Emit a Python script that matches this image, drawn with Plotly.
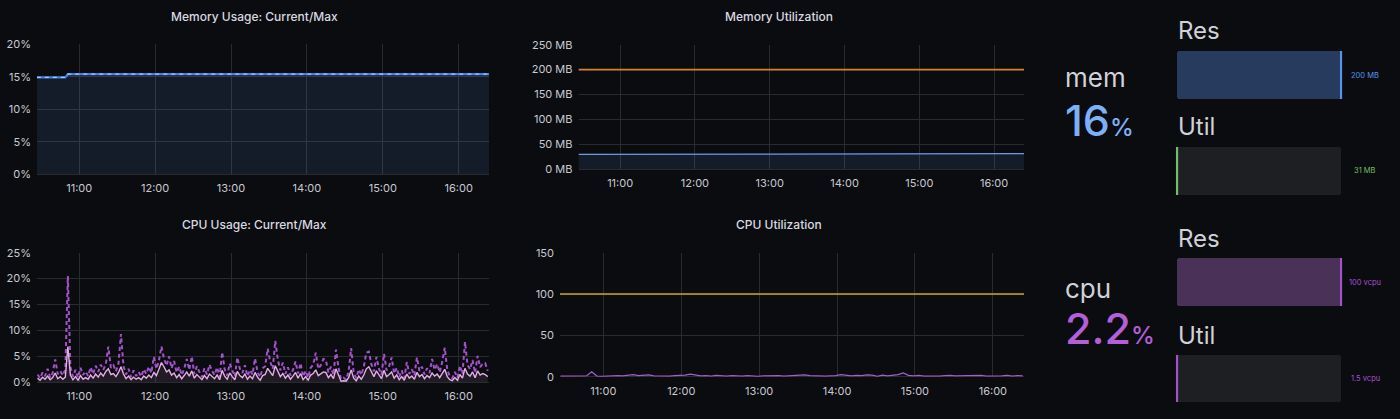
import pandas as pd
import plotly.graph_objects as go

DAY = "2023-05-10 "
BG = "#0b0c0f"
GRID = "#2a2b30"
TXT = "#c8c9d3"
FONT = "Inter"

# ---------------- data ----------------
mem_times = ["10:26:30", "10:49", "10:51", "16:24"]
mem_pct_current = [14.9, 14.9, 15.4, 15.4]
mem_pct_max = [14.9, 14.9, 15.4, 15.4]
mem_used_mb = [30.0, 30.0, 31.5, 31.5]
mem_limit_mb = [200, 200]

cpu_start, cpu_step_min = "10:27", 2
cpu_pct_max = [
    1.5, 0.8, 1.9, 1.2, 2.6, 0.9, 1.8, 4.4, 1.6, 2.2,
    1.3, 2.5, 20.5, 3.0, 1.1, 2.4, 0.9, 2.8, 1.4, 2.1,
    1.2, 2.9, 1.6, 3.2, 2.0, 3.4, 2.4, 3.5, 6.9, 2.8,
    3.3, 2.1, 3.6, 9.3, 3.1, 1.5, 2.6, 1.0, 2.3, 1.2,
    2.0, 1.1, 2.5, 1.6, 3.0, 1.8, 4.9, 2.6, 4.2, 6.9,
    4.6, 3.2, 5.0, 2.7, 4.1, 1.9, 3.0, 1.4, 2.6, 4.5,
    2.4, 5.0, 1.6, 3.1, 2.0, 1.0, 2.7, 1.5, 3.4, 2.2,
    1.4, 2.9, 1.0, 5.8, 2.5, 1.3, 3.6, 2.2, 1.1, 4.8,
    2.6, 1.8, 3.3, 1.2, 2.4, 1.5, 4.6, 2.0, 1.0, 2.7,
    3.1, 6.5, 4.0, 2.6, 8.0, 4.4, 2.3, 3.8, 1.6, 2.9,
    1.3, 2.4, 4.0, 1.7, 3.7, 1.1, 2.2, 0.9, 2.8, 3.4,
    5.7, 2.6, 3.3, 4.5, 4.3, 1.9, 3.0, 1.4, 6.3, 2.8,
    0.6, 0.9, 0.5, 2.1, 6.6, 1.8, 0.8, 2.5, 1.4, 3.0,
    5.7, 5.9, 3.5, 2.1, 4.9, 2.6, 1.5, 5.5, 2.3, 3.1,
    4.8, 1.7, 2.8, 1.0, 2.3, 0.8, 3.9, 1.6, 2.5, 1.3,
    4.8, 2.2, 3.0, 1.5, 2.7, 1.8, 4.5, 2.4, 3.5, 1.9,
    3.9, 6.7, 2.4, 1.2, 0.8, 2.0, 0.9, 3.2, 1.6, 7.8,
    3.4, 2.5, 4.3, 1.8, 5.1, 2.9, 3.6, 3.7, 2.2,
]
cpu_pct_current = [
    0.8, 0.4, 1.0, 0.6, 1.2, 0.5, 0.9, 1.8, 0.7, 1.1,
    0.6, 1.0, 6.9, 1.4, 0.5, 1.1, 0.4, 1.3, 0.6, 0.9,
    0.6, 1.4, 0.8, 1.6, 1.0, 1.8, 1.2, 2.1, 2.6, 1.5,
    1.7, 1.1, 1.9, 3.0, 1.6, 0.7, 1.2, 0.5, 1.0, 0.6,
    0.9, 0.5, 1.2, 0.8, 1.4, 0.9, 1.9, 1.3, 2.5, 3.8,
    3.0, 2.0, 2.4, 1.4, 1.8, 0.9, 1.5, 0.7, 1.3, 2.0,
    1.2, 2.2, 0.8, 1.5, 1.0, 0.5, 1.3, 0.7, 1.6, 1.1,
    0.7, 1.4, 0.5, 2.3, 1.2, 0.6, 1.8, 1.1, 0.5, 2.1,
    1.3, 0.9, 1.6, 0.6, 1.2, 0.7, 1.9, 1.0, 0.4, 1.3,
    1.5, 2.7, 2.0, 1.3, 3.2, 2.2, 1.1, 1.7, 0.8, 1.4,
    0.6, 1.2, 1.9, 0.8, 1.7, 0.5, 1.1, 0.4, 1.4, 1.7,
    2.4, 1.3, 1.6, 2.0, 1.9, 0.9, 1.5, 0.7, 2.6, 1.3,
    0.2, 0.3, 0.2, 0.9, 2.4, 0.8, 0.3, 1.2, 0.6, 1.4,
    2.6, 3.0, 2.0, 1.1, 2.2, 1.3, 0.7, 2.3, 1.1, 1.5,
    2.0, 0.8, 1.4, 0.5, 1.1, 0.4, 1.6, 0.8, 1.2, 0.6,
    1.9, 1.1, 1.5, 0.7, 1.3, 0.9, 1.8, 1.2, 1.6, 0.9,
    1.7, 2.5, 1.1, 0.5, 0.3, 0.9, 0.4, 1.5, 0.8, 2.7,
    1.6, 1.2, 2.0, 0.9, 2.2, 1.4, 1.7, 1.5, 1.1,
]

util_start, util_step_min = "10:27", 4
cpu_util = [
    0.6, 0.5, 0.8, 1.0, 0.6, 0.9, 6.0, 0.8, 0.5, 0.9,
    0.7, 1.2, 1.0, 1.4, 2.6, 1.3, 1.6, 2.2, 1.0, 0.7,
    0.9, 0.6, 1.2, 1.5, 2.0, 3.2, 1.8, 1.1, 1.4, 0.8,
    1.6, 1.2, 0.7, 1.3, 0.9, 0.6, 1.4, 0.9, 0.5, 1.1,
    1.3, 0.8, 1.2, 0.6, 1.0, 1.5, 1.9, 2.3, 1.4, 0.9,
    1.1, 0.6, 0.9, 1.2, 2.6, 1.5, 1.0, 1.7, 1.3, 2.1,
    1.9, 0.4, 2.0, 0.9, 1.4, 2.6, 4.6, 1.6, 1.1, 1.5,
    0.8, 0.6, 1.0, 0.7, 1.2, 1.6, 0.9, 1.1, 0.6, 1.3,
    1.0, 1.5, 0.7, 0.5, 1.2, 0.9, 1.6, 0.8, 1.3, 0.9,
]
limit_times = ["10:26:30", "16:24"]
cpu_limit = [100, 100]

stat_labels = ["mem", "cpu"]
stat_values = ["16", "2.2"]
stat_colors = ["#7eb0f7", "#b35fd8"]

gauge_titles = ["Res", "Util", "Res", "Util"]
gauge_fill = [1.0, 0.0, 1.0, 0.0]
gauge_texts = ["200 MB", "31 MB", "100 vcpu", "1.5 vcpu"]
gauge_edge = ["#5794f2", "#73bf69", "#a352cc", "#a352cc"]
gauge_body = ["#263b5e", "#1e1f23", "#4a3158", "#1e1f23"]

# ---------------- helpers ----------------
W, H = 1400, 419
def px(x): return x / W
def py(y): return 1 - y / H

mem_t = [DAY + t for t in mem_times]
cpu_t = pd.date_range(DAY + cpu_start, periods=len(cpu_pct_max), freq=f"{cpu_step_min}min")
util_t = pd.date_range(DAY + util_start, periods=len(cpu_util), freq=f"{util_step_min}min")
lim_t = [DAY + t for t in limit_times]

fig = go.Figure()

# Memory usage (x1,y1)
fig.add_trace(go.Scatter(x=mem_t, y=mem_pct_current, mode="lines", line=dict(color="#3d7fe6", width=2.2),
                         fill="tozeroy", fillcolor="rgba(87,148,242,0.12)", xaxis="x", yaxis="y"))
fig.add_trace(go.Scatter(x=mem_t, y=mem_pct_max, mode="lines", line=dict(color="#a9c8f5", width=1.3, dash="4px,4px"),
                         xaxis="x", yaxis="y"))

# CPU usage (x2,y2)
fig.add_trace(go.Scatter(x=cpu_t, y=cpu_pct_max, mode="lines", line=dict(color="#a352cc", width=2, dash="4px,3px"),
                         xaxis="x2", yaxis="y2"))
fig.add_trace(go.Scatter(x=cpu_t, y=cpu_pct_current, mode="lines", line=dict(color="#e6aee6", width=1.4),
                         fill="tozeroy", fillcolor="rgba(229,168,226,0.10)", xaxis="x2", yaxis="y2"))

# Memory utilization (x3,y3)
fig.add_trace(go.Scatter(x=lim_t, y=mem_limit_mb, mode="lines", line=dict(color="#d9822b", width=1.6),
                         xaxis="x3", yaxis="y3"))
fig.add_trace(go.Scatter(x=mem_t, y=mem_used_mb, mode="lines", line=dict(color="#6d9be6", width=1.3),
                         fill="tozeroy", fillcolor="rgba(87,148,242,0.12)", xaxis="x3", yaxis="y3"))

# CPU utilization (x4,y4)
fig.add_trace(go.Scatter(x=lim_t, y=cpu_limit, mode="lines", line=dict(color="#c4a81c", width=1.6),
                         xaxis="x4", yaxis="y4"))
fig.add_trace(go.Scatter(x=util_t, y=cpu_util, mode="lines", line=dict(color="#a35fcc", width=1.2),
                         xaxis="x4", yaxis="y4"))

xrange = [DAY + "10:26:36", DAY + "16:24"]
def time_axis(domain, anchor):
    return dict(domain=domain, anchor=anchor, type="date", range=xrange, tick0=DAY + "11:00",
                dtick=3600000, tickformat="%H:%M", showgrid=True, gridcolor=GRID, gridwidth=1,
                showline=False, zeroline=False, ticks="", ticklabelstandoff=6, automargin=False,
                tickfont=dict(size=11, color=TXT, family=FONT))

def val_axis(domain, anchor, rng, dtick, suffix=""):
    return dict(domain=domain, anchor=anchor, range=rng, dtick=dtick, tick0=0, ticksuffix=suffix,
                showgrid=True, gridcolor=GRID, gridwidth=1, zeroline=True, zerolinecolor=GRID,
                zerolinewidth=1, showline=False, ticks="", ticklabelstandoff=5, automargin=False,
                tickfont=dict(size=11, color=TXT, family=FONT))

layout = dict(
    template="none",
    width=W, height=H, autosize=False, paper_bgcolor=BG, plot_bgcolor=BG, showlegend=False,
    margin=dict(l=0, r=0, t=0, b=0, pad=0), barcornerradius=3, hovermode=False,
    font=dict(family=FONT, color=TXT),
    xaxis=time_axis([px(37), px(489)], "y"),
    yaxis=val_axis([py(174.3), py(44.3)], "x", [0, 20], 5, "%"),
    xaxis2=time_axis([px(37), px(489)], "y2"),
    yaxis2=val_axis([py(382.3), py(252.7)], "x2", [0, 25], 5, "%"),
    xaxis3=time_axis([px(578.5), px(1024)], "y3"),
    yaxis3=val_axis([py(169.3), py(44.7)], "x3", [0, 250], 50, " MB"),
    xaxis4=time_axis([px(560), px(1024)], "y4"),
    yaxis4=val_axis([py(376.7), py(252.7)], "x4", [0, 150], 50),
    bargap=0, barmode="overlay",
)

# Bar gauges
gauge_boxes = [(51, 99), (147, 195), (258, 306), (355, 402)]
annotations = []
for i, (y0, y1) in enumerate(gauge_boxes):
    k = i + 5
    xa, ya = f"x{k}", f"y{k}"
    layout[f"xaxis{k}"] = dict(domain=[px(1175.4), px(1342.7)], anchor=ya, range=[-0.01, 1.01],
                               visible=False, automargin=False)
    layout[f"yaxis{k}"] = dict(domain=[py(y1), py(y0)], anchor=xa, range=[-0.5, 0.5],
                               visible=False, automargin=False)
    fig.add_trace(go.Bar(x=[1.0], y=[0], base=0, width=1, orientation="h",
                         marker=dict(color="#1e1f23", line=dict(width=0)), xaxis=xa, yaxis=ya))
    if gauge_fill[i] > 0:
        fig.add_trace(go.Bar(x=[gauge_fill[i]], y=[0], base=0, width=1, orientation="h",
                             marker=dict(color=gauge_body[i], line=dict(width=0)), xaxis=xa, yaxis=ya))
    fig.add_trace(go.Scatter(x=[gauge_fill[i], gauge_fill[i]], y=[-0.5, 0.5], mode="lines",
                             line=dict(color=gauge_edge[i], width=2.2), xaxis=xa, yaxis=ya))
    annotations.append(dict(x=px(1365), y=py((y0 + y1) / 2), xref="paper", yref="paper",
                            text=gauge_texts[i], showarrow=False, xanchor="center", yanchor="middle",
                            font=dict(size=7.5, color=gauge_edge[i], family=FONT)))
    annotations.append(dict(x=px(1176), y=py(y0 - 20), xref="paper", yref="paper",
                            text=gauge_titles[i], showarrow=False, xanchor="left", yanchor="middle",
                            font=dict(size=24, color="#d0d1d9", family=FONT)))

# Panel titles
titles = [("Memory Usage: Current/Max", 254, 16), ("CPU Usage: Current/Max", 254, 224),
          ("Memory Utilization", 779, 16), ("CPU Utilization", 779, 224)]
for t, x, y in titles:
    annotations.append(dict(x=px(x), y=py(y), xref="paper", yref="paper", text=t, showarrow=False,
                            xanchor="center", yanchor="middle",
                            font=dict(size=12, color="#d8d9e0", family=FONT, weight=500)))

# Stats
stat_y = [(78, 120), (288, 328)]
for i in range(2):
    ly, vy = stat_y[i]
    annotations.append(dict(x=px(1063), y=py(ly), xref="paper", yref="paper", text=stat_labels[i],
                            showarrow=False, xanchor="left", yanchor="middle",
                            font=dict(size=26, color="#d0d1d9", family=FONT)))
    annotations.append(dict(x=px(1063), y=py(vy), xref="paper", yref="paper",
                            text=f"{stat_values[i]}<span style='font-size:24px'>%</span>",
                            showarrow=False, xanchor="left", yanchor="middle",
                            font=dict(size=43, color=stat_colors[i], family=FONT, weight=500)))

layout["annotations"] = annotations
fig.update_layout(**layout)
fig.write_html("out.html", config={"displayModeBar": False, "staticPlot": True},
               post_script="document.body.style.margin='0';document.body.style.background='#0b0c0f';")
